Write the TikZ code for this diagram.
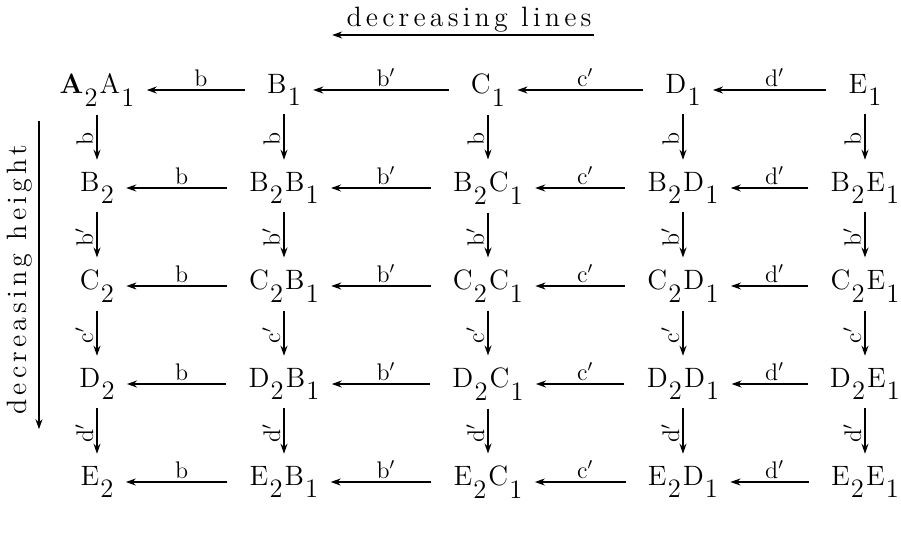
\documentclass[tikz,border=0pt]{standalone}
\usepackage{fontspec}
\usepackage{tikz}
\usetikzlibrary{arrows.meta}

\newfontfamily\spacedfont{lmroman12-regular.otf}[LetterSpace=15]

% lowered typewriter-style index
\newcommand{\lo}[1]{\kern0.6pt\raisebox{-0.45em}{\scalebox{0.95}{#1}}}

\begin{document}
\begin{tikzpicture}[
  x=0.5pt, y=0.5pt,
  term/.style={font=\fontsize{14}{16}\selectfont, inner sep=1pt},
  lbl/.style={font=\fontsize{12}{14}\selectfont, inner sep=1.5pt},
  vlbl/.style={lbl, rotate=90, anchor=south},
  heading/.style={font=\spacedfont\fontsize{14}{16}\selectfont, inner sep=1pt},
  arrow/.style={-{Stealth[length=5pt,width=3.5pt]}, line width=0.7pt},
  harrow/.style={arrow, shorten <=10pt, shorten >=5pt},
  varrow/.style={arrow, shorten <=3pt, shorten >=5pt}
]
  \useasboundingbox[fill=white] (0,0) rectangle (901,-546);

  % Headings
  \node[heading] (declines) at (469,-20) {decreasing lines};
  \node[heading, rotate=90] (decheight) at (20,-280) {decreasing height};
  \draw[arrow] (declines.south east) -- ([xshift=-6pt]declines.south west);
  \draw[arrow] ([xshift=2pt,yshift=11pt]decheight.south east) -- ([xshift=2pt,yshift=-6pt]decheight.south west);

  % Grid
  \node[term] (A2A1) at (97,-90)  {\textbf{A}\lo{2}\kern1pt A\lo{1}};
  \node[term] (B1)   at (284,-90) {B\lo{1}};
  \node[term] (C1)   at (488,-90) {C\lo{1}};
  \node[term] (D1)   at (683,-90) {D\lo{1}};
  \node[term] (E1)   at (865,-90) {E\lo{1}};

  \node[term] (B2)   at (97,-188)  {B\lo{2}};
  \node[term] (B2B1) at (284,-188) {B\lo{2}\kern1pt B\lo{1}};
  \node[term] (B2C1) at (488,-188) {B\lo{2}\kern1pt C\lo{1}};
  \node[term] (B2D1) at (683,-188) {B\lo{2}\kern1pt D\lo{1}};
  \node[term] (B2E1) at (865,-188) {B\lo{2}\kern1pt E\lo{1}};

  \node[term] (C2)   at (97,-286)  {C\lo{2}};
  \node[term] (C2B1) at (284,-286) {C\lo{2}\kern1pt B\lo{1}};
  \node[term] (C2C1) at (488,-286) {C\lo{2}\kern1pt C\lo{1}};
  \node[term] (C2D1) at (683,-286) {C\lo{2}\kern1pt D\lo{1}};
  \node[term] (C2E1) at (865,-286) {C\lo{2}\kern1pt E\lo{1}};

  \node[term] (D2)   at (97,-384)  {D\lo{2}};
  \node[term] (D2B1) at (284,-384) {D\lo{2}\kern1pt B\lo{1}};
  \node[term] (D2C1) at (488,-384) {D\lo{2}\kern1pt C\lo{1}};
  \node[term] (D2D1) at (683,-384) {D\lo{2}\kern1pt D\lo{1}};
  \node[term] (D2E1) at (865,-384) {D\lo{2}\kern1pt E\lo{1}};

  \node[term] (E2)   at (97,-482)  {E\lo{2}};
  \node[term] (E2B1) at (284,-482) {E\lo{2}\kern1pt B\lo{1}};
  \node[term] (E2C1) at (488,-482) {E\lo{2}\kern1pt C\lo{1}};
  \node[term] (E2D1) at (683,-482) {E\lo{2}\kern1pt D\lo{1}};
  \node[term] (E2E1) at (865,-482) {E\lo{2}\kern1pt E\lo{1}};

  % Arrows along the rows
  \foreach \p/\q/\r/\s/\t in {A2A1/B1/C1/D1/E1, B2/B2B1/B2C1/B2D1/B2E1, C2/C2B1/C2C1/C2D1/C2E1, D2/D2B1/D2C1/D2D1/D2E1, E2/E2B1/E2C1/E2D1/E2E1} {
    \draw[harrow] (\q) -- node[lbl, above] {b} (\p);
    \draw[harrow] (\r) -- node[lbl, above] {b$'$} (\q);
    \draw[harrow] (\s) -- node[lbl, above] {c$'$} (\r);
    \draw[harrow] (\t) -- node[lbl, above] {d$'$} (\s);
  }

  % Arrows down the columns
  \foreach \p/\q/\r/\s/\t in {A2A1/B2/C2/D2/E2, B1/B2B1/C2B1/D2B1/E2B1, C1/B2C1/C2C1/D2C1/E2C1, D1/B2D1/C2D1/D2D1/E2D1, E1/B2E1/C2E1/D2E1/E2E1} {
    \draw[varrow] (\p) -- node[vlbl] {b} (\q);
    \draw[varrow] (\q) -- node[vlbl] {b$'$} (\r);
    \draw[varrow] (\r) -- node[vlbl] {c$'$} (\s);
    \draw[varrow] (\s) -- node[vlbl] {d$'$} (\t);
  }
\end{tikzpicture}
\end{document}
